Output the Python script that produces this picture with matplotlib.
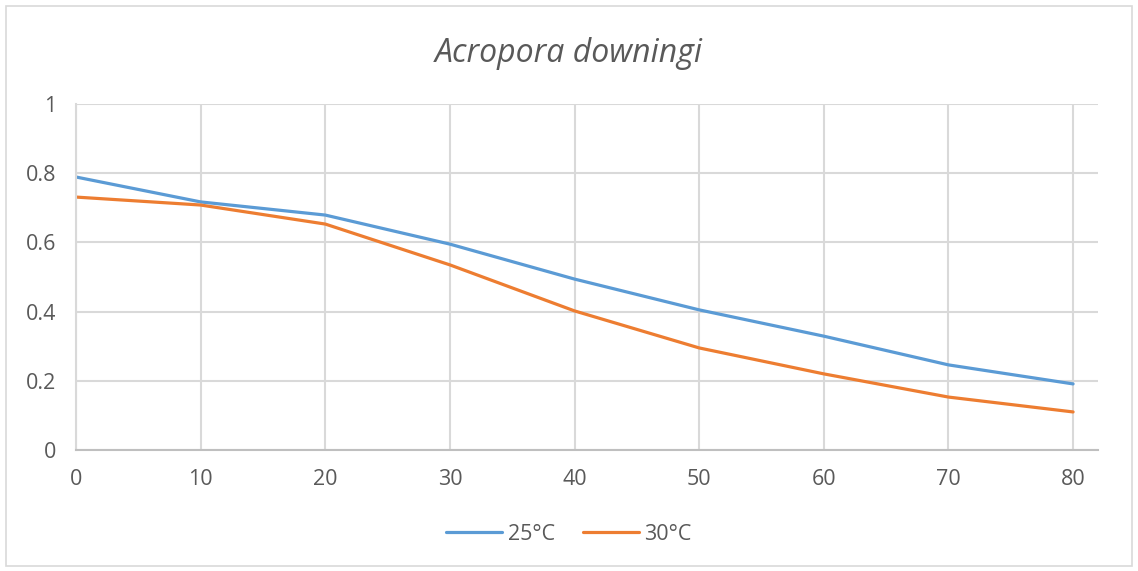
import matplotlib.pyplot as plt
from matplotlib.patches import Rectangle

days = [0, 10, 20, 30, 40, 50, 60, 70, 80]
temp25 = [0.789, 0.717, 0.679, 0.595, 0.494, 0.405, 0.329, 0.246, 0.191]
temp30 = [0.731, 0.708, 0.653, 0.535, 0.402, 0.295, 0.220, 0.153, 0.110]
series_labels = ["25°C", "30°C"]

plt.rcParams['font.family'] = ['Open Sans', 'DejaVu Sans']
text_color = "#595959"
grid_color = "#D9D9D9"

fig = plt.figure(figsize=(11.38, 5.71), dpi=100)
ax = fig.add_axes([76 / 1138, 1 - 450 / 571, (1098 - 76) / 1138, (450 - 104) / 571])

ax.plot(days, temp25, color="#5B9BD5", lw=2.3, label=series_labels[0], solid_capstyle="round")
ax.plot(days, temp30, color="#ED7D31", lw=2.3, label=series_labels[1], solid_capstyle="round")

ax.set_xlim(0, 82)
ax.set_ylim(0, 1)
ax.set_xticks(days)
ax.set_yticks([0, 0.2, 0.4, 0.6, 0.8, 1])
ax.set_yticklabels(["0", "0.2", "0.4", "0.6", "0.8", "1"])
ax.grid(True, color=grid_color, lw=1.5)
ax.set_axisbelow(True)
for side in ["top", "right"]:
    ax.spines[side].set_visible(False)
ax.spines["left"].set_color(grid_color)
ax.spines["left"].set_linewidth(1.5)
ax.spines["bottom"].set_color("#BFBFBF")
ax.spines["bottom"].set_linewidth(1.5)
ax.tick_params(length=0, labelsize=15.5, colors=text_color)
ax.tick_params(axis="y", pad=14)
ax.tick_params(axis="x", pad=14)

fig.text(0.5, 1 - 53 / 571, "Acropora downingi", ha="center", va="center",
         fontsize=23, style="italic", color=text_color)

fig.legend(loc="center", bbox_to_anchor=(0.5, 1 - 534 / 571), ncol=2, frameon=False,
           fontsize=15.5, labelcolor=text_color, handlelength=2.6, handletextpad=0.25,
           columnspacing=1.3)

fig.patches.append(Rectangle((6 / 1138, 5 / 571), 1126 / 1138, 560 / 571,
                             transform=fig.transFigure, fill=False,
                             edgecolor="#D9D9D9", lw=1.2))

fig.savefig("out.png", dpi=100)
